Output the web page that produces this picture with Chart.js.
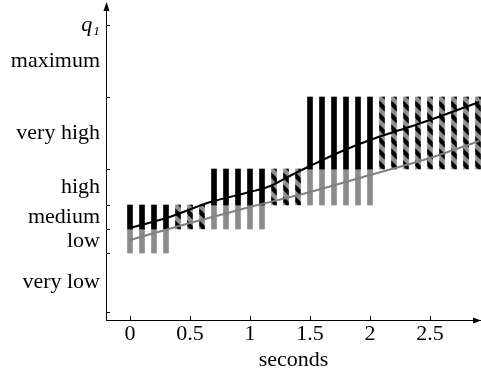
<!DOCTYPE html>
<html>
<head>
<meta charset="utf-8">
<script src="https://cdn.jsdelivr.net/npm/chart.js@4"></script>
<style>
  html, body { margin: 0; padding: 0; background: #fff; }
  #wrap { width: 481px; height: 369px; }
</style>
</head>
<body>
<div id="wrap"><canvas id="chart"></canvas></div>
<script>
// q1 levels: band names and the boundaries between them
const levelNames = ['very low', 'low', 'medium', 'high', 'very high', 'maximum'];
const levelBounds = [0.08, 0.67, 0.91, 1.15, 1.51, 2.23, 2.95];
const axisName = 'q\u2081';

const xTicks = [0, 0.5, 1, 1.5, 2, 2.5];

// solid stripes: black in the current level, grey one level below
const solidTimes = [0, 0.1, 0.2, 0.3, 0.7, 0.8, 0.9, 1.0, 1.1, 1.5, 1.6, 1.7, 1.8, 1.9, 2.0];
const solidLevels = [2, 2, 2, 2, 3, 3, 3, 3, 3, 4, 4, 4, 4, 4, 4];

// hatched stripes
const hatchTimes = [0.4, 0.5, 0.6, 1.2, 1.3, 1.4, 2.1, 2.2, 2.3, 2.4, 2.5, 2.6, 2.7, 2.8, 2.9];
const hatchLevels = [2, 2, 2, 3, 3, 3, 4, 4, 4, 4, 4, 4, 4, 4, 4];

// curves
const blackT = [0, 0.33, 0.67, 1.0, 1.17, 1.33, 1.5, 1.75, 2.0, 2.25, 2.5, 2.91];
const blackQ = [0.92, 1.03, 1.18, 1.28, 1.34, 1.44, 1.54, 1.68, 1.80, 1.90, 2.00, 2.18];
const greyT = [0, 0.5, 1.0, 1.5, 2.0, 2.5, 2.91];
const greyQ = [0.80, 0.97, 1.13, 1.28, 1.45, 1.62, 1.79];

const FONT = 'Liberation Serif';
const SIZE = 22;

function makeHatch() {
  const c = document.createElement('canvas');
  c.width = 12; c.height = 12;
  const g = c.getContext('2d');
  g.fillStyle = '#8f8f8f';
  g.fillRect(0, 0, 12, 12);
  g.strokeStyle = '#000';
  g.lineWidth = 4.2;
  g.beginPath();
  [-12, 0, 12].forEach(k => { g.moveTo(k - 2, -2); g.lineTo(k + 14, 14); });
  g.stroke();
  return g.createPattern(c, 'repeat');
}

const labelValues = levelNames.map((n, i) => (levelBounds[i] + levelBounds[i + 1]) / 2)
  .concat([levelBounds[levelBounds.length - 1]]);
const labelTexts = levelNames.concat([axisName]);

const axesPlugin = {
  id: 'axesDeco',
  afterDraw(chart) {
    const { ctx, chartArea: a, scales: { x, y } } = chart;
    ctx.save();
    ctx.strokeStyle = '#000';
    ctx.lineWidth = 1;
    ctx.beginPath();
    levelBounds.forEach(v => {
      const py = Math.round(y.getPixelForValue(v)) + 0.5;
      ctx.moveTo(a.left, py); ctx.lineTo(a.left + 4, py);
    });
    xTicks.forEach(v => {
      const px = Math.round(x.getPixelForValue(v)) + 0.5;
      ctx.moveTo(px, a.bottom); ctx.lineTo(px, a.bottom - 4);
    });
    ctx.stroke();
    ctx.fillStyle = '#000';
    // arrow heads
    ctx.beginPath();
    ctx.moveTo(a.left + 0.5, a.top - 3);
    ctx.lineTo(a.left - 2.5, a.top + 6);
    ctx.lineTo(a.left + 3.5, a.top + 6);
    ctx.closePath();
    ctx.fill();
    ctx.beginPath();
    ctx.moveTo(a.right, a.bottom + 0.5);
    ctx.lineTo(a.right - 8, a.bottom - 2.5);
    ctx.lineTo(a.right - 8, a.bottom + 3.5);
    ctx.closePath();
    ctx.fill();
    ctx.restore();
  }
};

const hatch = makeHatch();

new Chart(document.getElementById('chart'), {
  type: 'line',
  data: {
    datasets: [
      {
        label: 'black', data: blackT.map((t, i) => ({ x: t, y: blackQ[i] })),
        borderColor: '#000', borderWidth: 2, pointRadius: 0,
        cubicInterpolationMode: 'monotone', order: 0
      },
      {
        label: 'grey', data: greyT.map((t, i) => ({ x: t, y: greyQ[i] })),
        borderColor: '#808080', borderWidth: 2, pointRadius: 0,
        cubicInterpolationMode: 'monotone', order: 0
      },
      {
        type: 'bar', label: 'solid',
        data: solidTimes.map((t, i) => ({ x: t, y: [levelBounds[solidLevels[i]], levelBounds[solidLevels[i] + 1]] })),
        backgroundColor: '#000', barThickness: 5, grouped: false, order: 1
      },
      {
        type: 'bar', label: 'below',
        data: solidTimes.map((t, i) => ({ x: t, y: [levelBounds[solidLevels[i] - 1], levelBounds[solidLevels[i]]] })),
        backgroundColor: '#8c8c8c', barThickness: 5, grouped: false, order: 1
      },
      {
        type: 'bar', label: 'hatched',
        data: hatchTimes.map((t, i) => ({ x: t, y: [levelBounds[hatchLevels[i]], levelBounds[hatchLevels[i] + 1]] })),
        backgroundColor: hatch, barThickness: 5, grouped: false, order: 1
      }
    ]
  },
  options: {
    responsive: true,
    maintainAspectRatio: false,
    animation: false,
    layout: { padding: { top: 5, right: 0, left: 0, bottom: 0 } },
    plugins: { legend: { display: false }, tooltip: { enabled: false } },
    scales: {
      x: {
        type: 'linear', offset: false,
        min: -0.2, max: 2.925,
        afterBuildTicks: s => { s.ticks = xTicks.map(v => ({ value: v })); },
        afterFit: s => { s.height = 49; s.paddingLeft = 0; s.paddingRight = 0; },
        grid: { display: false, drawTicks: false, offset: false },
        border: { display: true, color: '#000', width: 1 },
        ticks: {
          padding: 1, color: '#000', maxRotation: 0,
          font: { family: FONT, size: SIZE },
          callback: v => String(v)
        },
        title: {
          display: true, text: 'seconds', color: '#000',
          font: { family: FONT, size: SIZE, lineHeight: 1 },
          padding: { top: 0, bottom: -2 }
        }
      },
      y: {
        type: 'linear', min: 0, max: 3.15,
        afterBuildTicks: s => { s.ticks = labelValues.map(v => ({ value: v })); },
        afterFit: s => { s.width = 106; s.paddingTop = 0; s.paddingBottom = 0; },
        grid: { display: false, drawTicks: false },
        border: { display: true, color: '#000', width: 1 },
        ticks: {
          padding: 6, color: '#000',
          font: ctx => ({ family: FONT, size: SIZE, style: ctx.index === labelTexts.length - 1 ? 'italic' : 'normal' }),
          callback: (v, i) => labelTexts[i]
        }
      }
    }
  },
  plugins: [axesPlugin]
});
</script>
</body>
</html>
